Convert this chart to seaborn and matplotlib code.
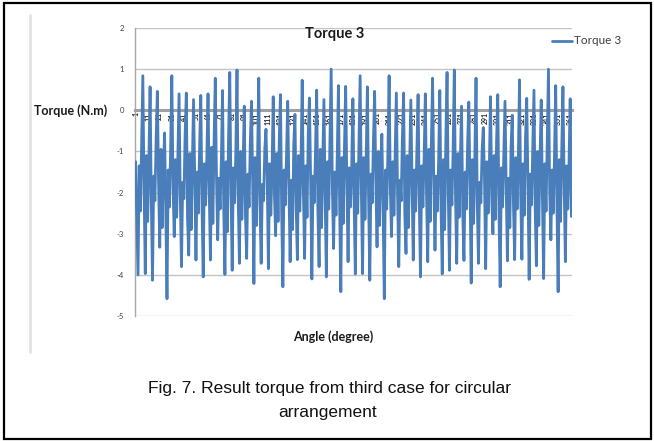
import numpy as np
import pandas as pd
import matplotlib
matplotlib.use("Agg")
import matplotlib.pyplot as plt
import seaborn as sns
from matplotlib.patches import Rectangle
from matplotlib.lines import Line2D

# ---------------- data ----------------
lead_in = [-1.25, -2.60]

troughs = [-4.00, -3.97, -4.13, -3.33, -4.58, -3.07, -3.80, -3.52, -3.64, -4.05,
           -3.64, -3.15, -3.99, -3.89, -3.72, -3.60, -4.21, -3.72, -3.85, -3.05,
           -4.29, -3.68, -3.63, -3.60, -4.10, -3.80, -4.05, -3.36, -4.41, -3.68,
           -3.98, -3.97, -4.13, -3.32, -4.58, -3.07, -3.80, -3.48, -3.64, -4.05,
           -3.68, -3.40, -3.98, -3.89, -3.72, -3.65, -4.20, -3.72, -3.85, -3.00,
           -4.29, -3.66, -3.63, -3.62, -4.11, -3.78, -4.09, -3.15, -4.41, -3.68]

rise_a = [-1.35, -1.10, -1.60, -0.95, -1.45, -1.20, -1.75, -1.05, -1.50, -1.30,
          -0.90, -1.65, -1.25, -1.40, -1.00, -1.55, -1.15, -1.80, -1.30, -1.05,
          -1.45, -1.70, -1.10, -1.35, -1.60, -0.95, -1.25, -1.50, -1.15, -1.40,
          -1.30, -1.15, -1.55, -1.00, -1.45, -1.25, -1.70, -1.10, -1.45, -1.35,
          -0.95, -1.60, -1.20, -1.45, -1.05, -1.50, -1.20, -1.75, -1.25, -1.10,
          -1.40, -1.65, -1.15, -1.30, -1.55, -1.00, -1.30, -1.45, -1.20, -1.35]

dip_b = [-2.45, -2.70, -2.20, -2.85, -2.35, -2.60, -2.15, -2.90, -2.50, -2.30,
         -2.75, -2.40, -2.95, -2.25, -2.65, -2.35, -2.80, -2.20, -2.55, -2.70,
         -2.30, -2.90, -2.45, -2.60, -2.25, -2.85, -2.40, -2.55, -2.75, -2.35,
         -2.50, -2.65, -2.25, -2.80, -2.40, -2.55, -2.20, -2.85, -2.45, -2.35,
         -2.70, -2.45, -2.90, -2.30, -2.60, -2.40, -2.75, -2.25, -2.50, -2.65,
         -2.35, -2.85, -2.40, -2.55, -2.30, -2.80, -2.45, -2.50, -2.70, -2.40]

rise_c = [-0.85, -1.20, -0.70, -1.40, -0.95, -1.10, -0.60, -1.30, -0.90, -1.15,
          -0.75, -1.25, -0.65, -1.05, -1.35, -0.80, -1.20, -0.95, -1.45, -0.70,
          -1.10, -0.85, -1.30, -0.60, -1.00, -1.25, -0.75, -1.15, -0.90, -1.35,
          -0.90, -1.15, -0.75, -1.35, -1.00, -1.05, -0.65, -1.25, -0.95, -1.10,
          -0.80, -1.20, -0.70, -1.00, -1.30, -0.85, -1.15, -1.00, -1.40, -0.75,
          -1.05, -0.90, -1.25, -0.65, -0.95, -1.20, -0.80, -1.10, -0.95, -1.30]

peaks = [0.84, 0.57, 0.46, -0.55, 0.84, 0.40, 0.42, 0.26, 0.36, 0.40,
         0.78, 0.48, 0.92, 0.98, 0.10, 0.22, 0.78, -0.46, 0.33, 0.38,
         0.22, -0.10, 0.73, 0.30, 0.49, 0.26, 1.00, 0.60, 0.58, 0.28,
         0.84, 0.57, 0.46, -0.58, 0.84, 0.42, 0.42, 0.25, 0.38, 0.40,
         0.78, 0.48, 0.92, 0.98, 0.10, 0.20, 0.78, -0.42, 0.33, 0.38,
         0.22, -0.12, 0.74, 0.29, 0.49, 0.25, 1.00, 0.60, 0.57, 0.28]

fall_d = [-1.90, -2.20, -1.70, -2.45, -1.85, -2.10, -2.60, -1.75, -2.30, -2.00,
          -1.65, -2.40, -1.95, -2.15, -2.55, -1.80, -2.25, -1.60, -2.05, -2.50,
          -1.85, -2.35, -2.00, -1.70, -2.45, -2.10, -1.90, -2.30, -1.75, -2.20,
          -1.95, -2.15, -1.75, -2.40, -1.90, -2.05, -2.55, -1.80, -2.25, -2.05,
          -1.70, -2.35, -2.00, -2.10, -2.50, -1.85, -2.20, -1.65, -2.10, -2.45,
          -1.90, -2.30, -2.05, -1.75, -2.40, -2.15, -1.95, -2.25, -1.80, -2.58]

y_ticks = [2, 1, 0, -1, -2, -3, -4, -5]
x_tick_labels = ["1", "11", "21", "31", "41", "51", "61", "71", "81", "91",
                 "101", "111", "121", "131", "141", "151", "161", "171", "181",
                 "191", "201", "211", "221", "231", "241", "251", "261", "271",
                 "281", "291", "301", "311", "321", "331", "341", "351", "361"]

series_name = "Torque 3"
title_text = "Torque 3"
y_label = "Torque (N.m)"
x_label = "Angle (degree)"
caption_1 = "Fig. 7. Result torque from third case for circular"
caption_2 = "arrangement"

# ---------------- build table ----------------
torque = list(lead_in)
for t, a, b, c, p, d in zip(troughs, rise_a, dip_b, rise_c, peaks, fall_d):
    torque += [t, a, b, c, p, d]
angle = np.arange(1, len(torque) + 1)
df = pd.DataFrame({"Angle": angle, "Torque": torque})

# ---------------- style ----------------
sns.set_style("white")
plt.rcParams["font.family"] = ["Lato", "DejaVu Sans"]

W, H = 654, 441
def fx(px):
    return px / W
def fy(py):
    return 1 - py / H

BLUE = "#4A7EBB"
GRID = "#c4c4c4"

fig = plt.figure(figsize=(W / 100, H / 100), dpi=100)
fig.patch.set_facecolor("white")
ax = fig.add_axes([fx(135), fy(316), fx(572) - fx(135), fy(28) - fy(316)])
ax.set_facecolor("none")

sns.lineplot(data=df, x="Angle", y="Torque", ax=ax, color=BLUE,
             linewidth=2.0, zorder=2, legend=False)

ax.set_xlim(0.5, len(torque) + 0.5)
ax.set_ylim(-5, 2)

for yv in y_ticks:
    if yv != 0:
        ax.axhline(yv, color=GRID, lw=1.0, zorder=1)

for s in ["top", "right"]:
    ax.spines[s].set_visible(False)
ax.spines["left"].set_color("#a8a8a8")
ax.spines["left"].set_linewidth(1.0)
ax.spines["left"].set_zorder(1)
ax.spines["bottom"].set_position(("data", 0))
ax.spines["bottom"].set_color("#a0a0a0")
ax.spines["bottom"].set_linewidth(2.2)
ax.spines["bottom"].set_zorder(1)

xt = [int(s) for s in x_tick_labels]
ax.set_xticks(xt)
ax.set_xticklabels(x_tick_labels, rotation=90, fontsize=5, color="#2a2a2a",
                   va="top", ha="center", fontweight="bold")
ax.tick_params(axis="x", length=0, pad=1.5)
ax.set_yticks(y_ticks)
ax.set_yticklabels([str(v) for v in y_ticks], fontsize=5.5, color="#404040")
ax.tick_params(axis="y", length=0, pad=8)
ax.set_xlabel("")
ax.set_ylabel("")

# titles
fig.text(fx(335), fy(34), title_text, ha="center", va="center",
         fontsize=10.5, fontweight="bold", color="#1a1a1a")
fig.text(fx(71), fy(111), y_label, ha="center", va="center",
         fontsize=9, fontweight="bold", color="#1a1a1a")
fig.text(fx(333), fy(337), x_label, ha="center", va="center",
         fontsize=9, fontweight="bold", color="#1a1a1a")

# legend
fig.add_artist(Line2D([fx(552), fx(572)], [fy(41), fy(41)], color=BLUE,
                      lw=2, transform=fig.transFigure))
fig.text(fx(574), fy(41), series_name, ha="left", va="center",
         fontsize=8.5, color="#404040")

# chart-area edge and outer frame
fig.add_artist(Line2D([fx(30), fx(30)], [fy(15), fy(352)], color="#e2e2e2",
                      lw=2, transform=fig.transFigure))
fig.add_artist(Rectangle((fx(4), fy(439)), fx(651) - fx(4), fy(3) - fy(439),
                         fill=False, ec="black", lw=1.6,
                         transform=fig.transFigure))

# caption
fig.text(fx(330), fy(389), caption_1, ha="center", va="center",
         fontsize=12.5, family=["Liberation Sans", "DejaVu Sans"], color="#111111")
fig.text(fx(328), fy(412), caption_2, ha="center", va="center",
         fontsize=12.5, family=["Liberation Sans", "DejaVu Sans"], color="#111111")

fig.savefig("out.png", dpi=100, facecolor="white")
